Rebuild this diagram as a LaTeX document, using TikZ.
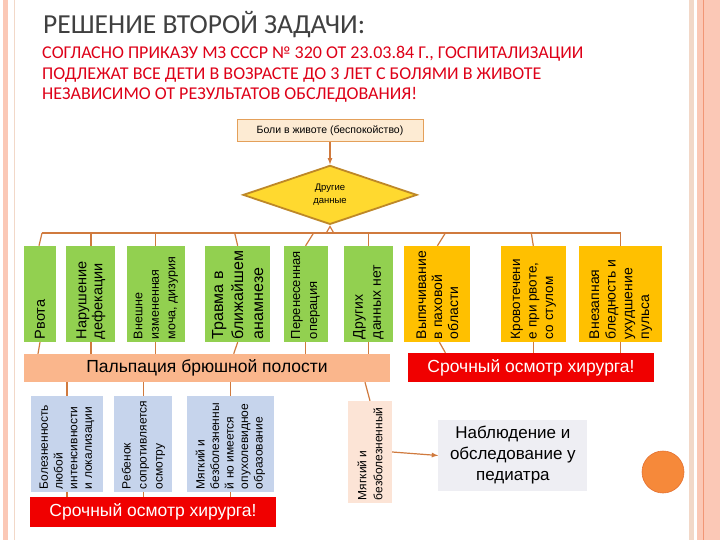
\documentclass[tikz,border=0pt]{standalone}
\usepackage{fontspec}
\setmainfont{Liberation Sans}
\newfontfamily\calibri{Carlito}
\usepackage{tikz}
\usetikzlibrary{shapes,arrows,positioning,backgrounds}
\definecolor{salmon}{RGB}{251,200,182}
\definecolor{framebeige}{RGB}{242,216,200}
\definecolor{frameline}{RGB}{241,150,118}
\definecolor{titlegray}{RGB}{64,64,64}
\definecolor{orderred}{RGB}{222,0,24}
\definecolor{conn}{RGB}{208,122,62}
\definecolor{leaf}{RGB}{146,208,80}
\definecolor{amber}{RGB}{255,192,0}
\definecolor{palp}{RGB}{250,182,140}
\definecolor{alarm}{RGB}{240,0,0}
\definecolor{paleblue}{RGB}{198,212,236}
\definecolor{peach}{RGB}{252,228,214}
\definecolor{palegray}{RGB}{238,238,243}
\definecolor{gold}{RGB}{255,217,47}
\definecolor{goldline}{RGB}{190,136,40}
\definecolor{circorange}{RGB}{246,137,58}
\definecolor{circline}{RGB}{228,112,48}
\definecolor{topfill}{RGB}{253,235,211}
\definecolor{topline}{RGB}{228,160,90}
\tikzstyle{sympt} = [rectangle, draw=none, fill=leaf, inner sep=0pt, minimum height=96pt]
\tikzstyle{alarmsympt} = [rectangle, draw=none, fill=amber, inner sep=0pt, minimum height=96pt]
\tikzstyle{exambox} = [rectangle, draw=none, fill=paleblue, inner sep=0pt, minimum height=96pt]
\tikzstyle{palpbar} = [rectangle, draw=none, fill=palp, inner sep=0pt, font=\fontsize{17.5}{20}\selectfont]
\tikzstyle{urgent} = [rectangle, draw=none, fill=alarm, text=white, inner sep=0pt, font=\fontsize{17.5}{20}\selectfont]
\tikzstyle{vtext} = [rotate=90, anchor=west, align=left, inner sep=3pt, font=\fontsize{13}{16}\selectfont]
\tikzstyle{tedge} = [draw=conn, line width=1.2pt, >=latex]

\begin{document}
\begin{tikzpicture}[x=1pt, y=-1pt]
\useasboundingbox (0,0) rectangle (720,540);

% frame =============================
\begin{scope}[on background layer]
\fill[white] (0,0) rectangle (720,540);
\fill[salmon] (3,0) rectangle (8,540);
\draw[framebeige, line width=1pt] (14,0) -- (14,540);
\fill[framebeige] (689,0) rectangle (694,540);
\fill[salmon] (697,0) rectangle (720,540);
\draw[frameline, line width=1pt] (703,0) -- (703,540);
\end{scope}

% heading
\node[anchor=base west, inner sep=0pt, text=titlegray, font=\calibri\fontsize{27.5}{30}\selectfont] (title) at (43,34) {РЕШЕНИЕ ВТОРОЙ ЗАДАЧИ:};
\node[anchor=base west, inner sep=0pt, text=orderred, font=\calibri\fontsize{18}{20}\selectfont] (order1) at (42,59) {СОГЛАСНО ПРИКАЗУ МЗ СССР № 320 ОТ 23.03.84 Г., ГОСПИТАЛИЗАЦИИ};
\node[anchor=base west, inner sep=0pt, text=orderred, font=\calibri\fontsize{18}{20}\selectfont] (order2) at (42,80) {ПОДЛЕЖАТ ВСЕ ДЕТИ В ВОЗРАСТЕ ДО 3 ЛЕТ С БОЛЯМИ В ЖИВОТЕ};
\node[anchor=base west, inner sep=0pt, text=orderred, font=\calibri\fontsize{18}{20}\selectfont] (order3) at (42,100) {НЕЗАВИСИМО ОТ РЕЗУЛЬТАТОВ ОБСЛЕДОВАНИЯ!};

% decision =============================
\node[rectangle, draw=topline, fill=topfill, line width=1pt, minimum width=186pt, minimum height=22pt, font=\fontsize{10.5}{12}\selectfont] (pain) at (330,131) {Боли в животе (беспокойство)};
\node[diamond, draw=goldline, fill=gold, line width=1.8pt, inner sep=0pt, minimum width=174pt, minimum height=59pt, align=center, font=\fontsize{9.5}{13}\selectfont, below=22pt of pain] (other) {Другие\\данные};
\coordinate (bus) at (328,233);

% symptoms =============================
\node[sympt, minimum width=32pt] (rvota) at (40,294) {};
\node[sympt, minimum width=49pt, right=10pt of rvota] (defek) {};
\node[sympt, minimum width=58pt, right=11pt of defek] (urine) {};
\node[sympt, minimum width=65pt, right=20pt of urine] (trauma) {};
\node[sympt, minimum width=44pt, right=13pt of trauma] (surgery) {};
\node[sympt, minimum width=49pt, right=16pt of surgery] (nodata) {};
\node[alarmsympt, minimum width=66pt, right=11pt of nodata] (hernia) {};
\node[alarmsympt, minimum width=65pt, right=30pt of hernia] (bleed) {};
\node[alarmsympt, minimum width=83pt, right=13pt of bleed] (pallor) {};

\node[vtext, font=\fontsize{14.5}{16}\selectfont] at (rvota.south) {Рвота};
\node[vtext, font=\fontsize{14.5}{16}\selectfont] at (defek.south) {Нарушение\\дефекации};
\node[vtext, font=\fontsize{12.5}{16.5}\selectfont] at (urine.south) {Внешне\\измененная\\моча, дизурия};
\node[vtext, font=\fontsize{16}{20}\selectfont] at (trauma.south) {Травма в\\ближайшем\\анамнезе};
\node[vtext, font=\fontsize{13}{17}\selectfont] at (surgery.south) {Перенесенная\\операция};
\node[vtext, font=\fontsize{14}{18}\selectfont] at (nodata.south) {Других\\данных нет};
\node[vtext, font=\fontsize{14}{16}\selectfont] at (hernia.south) {Выпячивание\\в паховой\\области};
\node[vtext, font=\fontsize{13.5}{16.5}\selectfont] at (bleed.south) {Кровотечени\\е при рвоте,\\со стулом};
\node[vtext, font=\fontsize{14}{16.7}\selectfont] at (pallor.south) {Внезапная\\бледность и\\ухудшение\\пульса};

% bars
\node[palpbar, minimum width=366pt, minimum height=28pt] (palp) at (207,368) {Пальпация брюшной полости};
\node[urgent, minimum width=246pt, minimum height=29pt] (urgentR) at (531,367.5) {Срочный осмотр хирурга!};

% palpation results =============================
\node[exambox, minimum width=72pt] (tender) at (67,444) {};
\node[exambox, minimum width=58pt, right=11pt of tender] (resist) {};
\node[exambox, minimum width=87pt, right=14pt of resist] (tumor) {};
\node[vtext, font=\fontsize{12}{14.7}\selectfont] at (tender.south) {Болезненность\\любой\\интенсивности\\и локализации};
\node[vtext, font=\fontsize{12}{16}\selectfont] at (resist.south) {Ребенок\\сопротивляется\\осмотру};
\node[vtext, font=\fontsize{12}{14.5}\selectfont] at (tumor.south) {Мягкий и\\безболезненны\\й но имеется\\опухолевидное\\образование};
\node[urgent, minimum width=246pt, minimum height=30pt] (urgentL) at (153,512) {Срочный осмотр хирурга!};

\node[rectangle, fill=peach, inner sep=0pt, minimum width=44pt, minimum height=102pt] (soft) at (370,452) {};
\node[vtext, font=\fontsize{12}{16}\selectfont] at (soft.south) {Мягкий и\\безболезненный};
\node[rectangle, fill=palegray, inner sep=0pt, minimum width=149pt, minimum height=71pt, align=center, font=\fontsize{17}{21}\selectfont, right=46pt of soft, yshift=-3.5pt] (pediatr) {Наблюдение и\\обследование у\\педиатра};
\node[circle, fill=circorange, draw=circline, line width=0.6pt, minimum size=42pt, inner sep=0pt] (dot) at (663,472) {};

% edges
\begin{scope}[on background layer]
\path[tedge, ->] (pain.south) -- (other.north);
\path[tedge, <-, >=open triangle 60] (other.south) -- (other.south |- bus);
\path[tedge] ([xshift=2pt]rvota.north |- bus) -- (pallor.north |- bus);
\path[tedge] ([xshift=2pt]rvota.north |- bus) -- ([xshift=-1pt]rvota.north);
\path[tedge] (defek.north |- bus) -- (defek.north);
\path[tedge] (urine.north |- bus) -- (urine.north);
\path[tedge] ([xshift=-3pt]trauma.north |- bus) -- (trauma.north);
\path[tedge] ([xshift=8pt]surgery.north |- bus) -- (surgery.north);
\path[tedge] (nodata.north |- bus) -- (nodata.north);
\path[tedge] ([xshift=8pt]hernia.north |- bus) -- (hernia.north);
\path[tedge] ([xshift=-2pt]bleed.north |- bus) -- (bleed.north);
\path[tedge] (pallor.north |- bus) -- (pallor.north);

\path[tedge] (rvota.south) -- ([xshift=-2pt]rvota.south |- palp.north);
\path[tedge] (defek.south) -- (defek.south |- palp.north);
\path[tedge] (urine.south) -- (urine.south |- palp.north);
\path[tedge] (trauma.south) -- ([xshift=-4pt]trauma.south |- palp.north);
\path[tedge] (surgery.south) -- (surgery.south |- palp.north);
\path[tedge] (nodata.south) -- (nodata.south |- palp.north);
\path[tedge] ([xshift=2pt]hernia.south) -- ([xshift=8pt]hernia.south |- urgentR.north);
\path[tedge] (bleed.south) -- (bleed.south |- urgentR.north);
\path[tedge] (pallor.south) -- (pallor.south |- urgentR.north);

\path[tedge] (tender.north |- palp.south) -- (tender.north);
\path[tedge] (resist.north |- palp.south) -- (resist.north);
\path[tedge] (tumor.north |- palp.south) -- (tumor.north);
\path[tedge] (tender.south) -- (tender.south |- urgentL.north);
\path[tedge] (resist.south) -- (resist.south |- urgentL.north);
\path[tedge] (tumor.south) -- (tumor.south |- urgentL.north);
\path[tedge] ([xshift=-5pt]soft.north |- palp.south) -- (soft.north);
\path[tedge, ->] (soft.east) -- (pediatr.west);
\end{scope}

\end{tikzpicture}
\end{document}
